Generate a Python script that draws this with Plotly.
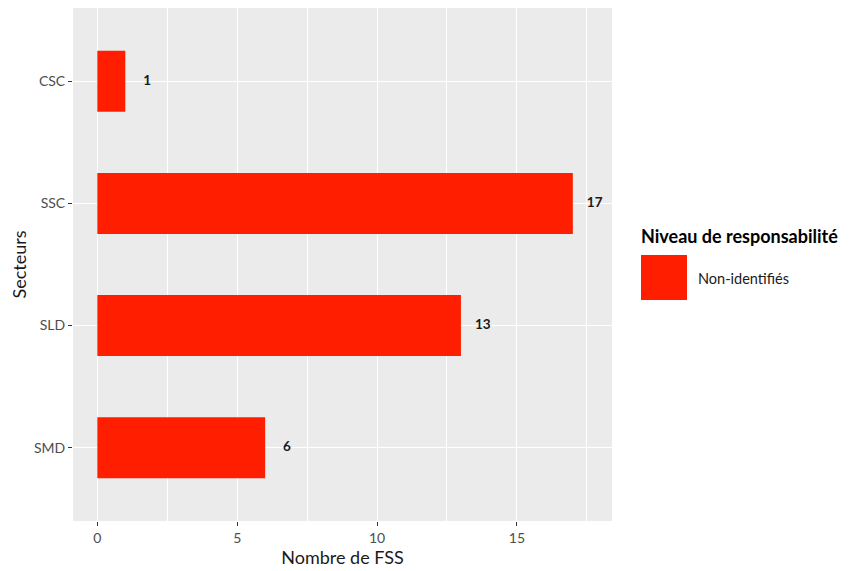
import plotly.graph_objects as go

categories = ["SMD", "SLD", "SSC", "CSC"]
values = [6, 13, 17, 1]
series_name = "Non-identifiés"
legend_title = "Niveau de responsabilité"
x_ticks = [0, 5, 10, 15]

RED = "#FF1F00"
FONT = "Lato"

# page has an 8px body offset; compensate
W, H = 846, 563
L, R, T, B = 65, 242, 0, 50
PW, PH = W - L - R, H - T - B
OX, OY = 8, 8

fig = go.Figure()
fig.add_trace(go.Bar(
    y=categories, x=values, orientation="h", width=0.5,
    marker=dict(color=RED, line=dict(width=0)),
    name=series_name, showlegend=False,
))
fig.add_trace(go.Scatter(
    y=categories, x=[v + 0.78 for v in values], mode="text",
    text=[str(v) for v in values], textposition="middle center",
    textfont=dict(family=FONT, size=13.5, color="#1a1a1a", weight="bold"),
    showlegend=False, hoverinfo="skip",
))

fig.update_layout(
    width=W, height=H,
    margin=dict(l=L, r=R, t=T, b=B, pad=0),
    paper_bgcolor="white", plot_bgcolor="#EBEBEB",
    font=dict(family=FONT, color="#1a1a1a"),
    showlegend=False,
    xaxis=dict(
        range=[-0.87, 18.4], tickvals=x_ticks, ticktext=[str(t) for t in x_ticks],
        showgrid=True, gridcolor="white", gridwidth=1.2, zeroline=False,
        ticks="outside", ticklen=4, tickcolor="#333333", tickwidth=1.1,
        tickfont=dict(family=FONT, size=14, color="#4d4d4d"),
        minor=dict(tick0=2.5, dtick=5, showgrid=True, gridcolor="white", gridwidth=0.6, ticks=""),
        title=dict(text="Nombre de FSS", font=dict(family=FONT, size=18, color="#1a1a1a"), standoff=4),
        showline=False,
    ),
    yaxis=dict(
        categoryorder="array", categoryarray=categories, range=[-0.6, 3.6],
        showgrid=True, gridcolor="white", gridwidth=1.2, zeroline=False,
        ticks="outside", ticklen=4, tickcolor="#333333", tickwidth=1.1,
        tickfont=dict(family=FONT, size=14, color="#4d4d4d"),
        title=dict(text="Secteurs", font=dict(family=FONT, size=18, color="#1a1a1a"), standoff=10),
        showline=False,
    ),
)

# Legend drawn manually (ggplot-style large key), positions given in page pixels
def fx(p):
    return (p - OX - L) / PW
def fy(p):
    return (T + PH - (p - OY)) / PH

fig.add_annotation(
    xref="paper", yref="paper", x=fx(639), y=fy(236),
    text="<b>" + legend_title + "</b>", showarrow=False, xanchor="left", yanchor="middle",
    font=dict(family=FONT, size=18, color="#000000"),
)
fig.add_shape(
    type="rect", xref="paper", yref="paper",
    x0=fx(641), x1=fx(687), y0=fy(300), y1=fy(255),
    fillcolor=RED, line=dict(width=0),
)
fig.add_annotation(
    xref="paper", yref="paper", x=fx(696), y=fy(278),
    text=series_name, showarrow=False, xanchor="left", yanchor="middle",
    font=dict(family=FONT, size=14.5, color="#1a1a1a"),
)

fig.write_html("out.html")
